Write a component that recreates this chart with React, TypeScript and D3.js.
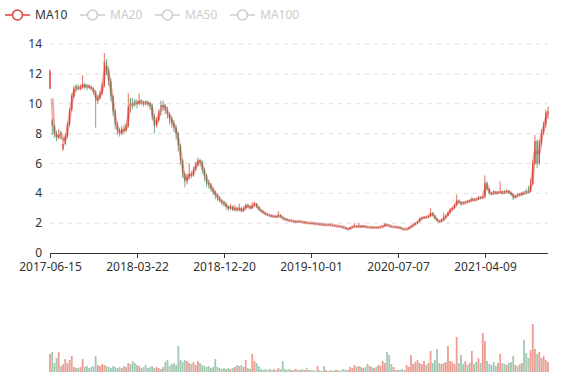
import React from "react";
import * as d3 from "d3";

// [open, close, low, high] per candle (~weekly)
const CANDLES: number[][] = [
[11.0,12.2,10.98,12.3],[8.9,8.5,7.9,9.0],[8.5,8.0,7.7,8.6],[8.0,7.7,7.5,8.2],[7.7,7.9,7.6,8.3],
[8.1,8.0,7.6,8.2],[6.95,7.3,6.85,7.7],[7.3,7.8,7.2,8.0],[7.8,8.6,7.7,8.8],[8.6,9.6,8.5,9.7],
[9.6,10.5,9.5,10.7],[10.5,11.0,10.4,11.2],[11.2,11.1,10.8,11.3],[11.1,11.0,10.9,11.3],[11.0,11.1,10.9,11.3],
[11.1,11.3,11.0,11.9],[11.3,11.1,11.0,11.4],[11.25,11.2,10.9,11.3],[11.2,11.1,11.0,11.3],[11.1,11.0,10.9,11.2],
[11.0,10.8,10.6,11.1],[10.8,10.2,8.4,10.9],[10.2,10.4,10.0,10.6],[10.4,10.7,10.3,10.9],[10.7,11.2,10.6,11.4],
[11.2,12.8,11.1,13.4],[12.8,12.2,11.9,13.0],[12.2,11.5,11.2,12.5],[11.5,10.5,10.2,11.7],[10.5,9.5,9.2,10.6],
[9.5,8.6,8.3,9.6],[8.6,8.2,7.9,8.8],[8.2,8.0,7.8,8.4],[8.0,8.3,7.9,8.5],[8.3,8.2,8.0,8.6],
[8.2,8.5,8.1,8.7],[8.5,9.8,8.4,10.7],[10.3,10.0,9.4,10.4],[10.0,9.9,9.6,10.4],[10.2,10.1,9.8,10.3],
[10.1,10.0,9.7,10.3],[10.0,10.2,9.9,10.7],[10.2,10.1,9.9,10.3],[10.1,10.0,9.8,10.2],[10.2,10.1,9.9,10.2],
[10.1,10.0,9.8,10.2],[10.0,9.9,9.6,10.1],[9.9,9.2,8.9,10.0],[9.2,8.5,8.0,9.3],[8.5,8.9,8.4,9.1],
[8.9,9.4,8.8,9.6],[9.9,9.8,9.2,10.2],[9.8,9.9,9.5,10.2],[9.9,9.6,9.3,10.0],[9.6,9.3,9.0,9.8],
[9.3,9.0,8.6,9.4],[9.0,8.7,8.4,9.2],[8.7,8.4,8.1,8.9],[8.4,8.0,7.6,8.6],[8.0,7.2,6.8,8.1],
[7.2,6.2,5.9,7.3],[6.2,5.3,5.0,6.3],[5.3,4.8,4.4,5.4],[4.8,5.1,4.6,5.3],[5.1,5.3,4.9,6.0],
[5.3,5.2,5.0,5.5],[5.2,5.6,5.1,5.8],[5.6,5.9,5.5,6.1],[5.9,6.2,5.8,6.4],[6.2,6.1,5.8,6.3],
[6.1,5.6,5.3,6.2],[5.6,5.2,4.8,5.7],[5.2,4.7,4.4,5.3],[4.7,4.6,4.3,4.9],[4.6,4.3,4.1,4.7],
[4.3,4.1,3.9,4.4],[4.1,3.9,3.6,4.2],[3.9,3.7,3.5,4.0],[3.7,3.5,3.4,3.8],[3.5,3.4,3.2,3.6],
[3.4,3.3,3.1,3.5],[3.3,3.1,2.9,3.4],[3.1,3.0,2.8,3.2],[3.0,3.1,2.9,3.3],[3.1,2.9,2.8,3.2],
[2.9,3.0,2.8,3.2],[3.0,2.9,2.75,3.1],[2.9,3.0,2.8,3.3],[3.0,2.8,2.7,3.1],[2.8,3.0,2.75,3.1],
[3.0,3.2,2.9,3.3],[3.2,3.1,3.0,3.3],[3.1,3.0,2.9,3.2],[3.0,3.2,2.95,3.4],[3.2,3.3,3.1,3.45],
[3.3,3.1,3.0,3.35],[3.1,2.9,2.85,3.15],[2.9,2.8,2.7,2.95],[2.8,2.7,2.65,2.85],[2.7,2.6,2.55,2.75],
[2.6,2.55,2.5,2.65],[2.55,2.5,2.45,2.6],[2.5,2.45,2.4,2.55],[2.45,2.46,2.4,2.5],[2.45,2.4,2.35,2.5],
[2.4,2.55,2.38,2.8],[2.55,2.4,2.35,2.6],[2.4,2.3,2.25,2.45],[2.3,2.25,2.2,2.35],[2.25,2.2,2.15,2.3],
[2.2,2.15,2.12,2.25],[2.15,2.16,2.1,2.2],[2.15,2.1,2.08,2.18],[2.1,2.11,2.06,2.15],[2.11,2.1,2.05,2.14],
[2.1,2.11,2.06,2.13],[2.1,2.05,2.02,2.12],[2.05,2.06,2.02,2.1],[2.05,2.0,1.98,2.08],[2.0,2.01,1.97,2.05],
[2.01,2.0,1.96,2.04],[2.0,1.98,1.95,2.03],[1.98,1.95,1.93,2.0],[1.95,1.96,1.92,2.0],[1.96,1.9,1.88,1.98],
[1.9,1.92,1.88,1.95],[1.92,1.88,1.86,1.95],[1.88,1.89,1.85,1.92],[1.88,1.9,1.86,1.93],[1.9,1.85,1.83,1.92],
[1.85,1.86,1.82,1.88],[1.85,1.8,1.78,1.87],[1.8,1.81,1.77,1.83],[1.8,1.78,1.75,1.82],[1.78,1.75,1.72,1.8],
[1.75,1.7,1.67,1.77],[1.7,1.62,1.58,1.72],[1.62,1.6,1.56,1.65],[1.6,1.7,1.58,1.75],[1.7,1.75,1.68,1.8],
[1.75,1.8,1.72,2.0],[1.8,1.75,1.7,1.85],[1.75,1.8,1.72,2.0],[1.8,1.75,1.7,1.85],[1.75,1.8,1.72,1.88],
[1.8,1.75,1.7,1.82],[1.75,1.72,1.68,1.78],[1.72,1.73,1.68,1.76],[1.72,1.7,1.66,1.75],[1.7,1.72,1.67,1.76],
[1.72,1.7,1.67,1.74],[1.7,1.72,1.68,1.75],[1.72,1.75,1.7,1.78],[1.75,1.8,1.73,1.85],[1.8,1.9,1.78,2.0],
[1.9,1.85,1.8,1.95],[1.85,1.8,1.76,1.88],[1.8,1.75,1.72,1.83],[1.75,1.76,1.71,1.78],[1.75,1.72,1.69,1.77],
[1.72,1.73,1.68,1.75],[1.72,1.65,1.62,1.74],[1.65,1.6,1.56,1.67],[1.6,1.58,1.55,1.63],[1.58,1.62,1.56,1.66],
[1.62,1.7,1.6,1.73],[1.7,1.8,1.68,1.84],[1.8,1.9,1.78,1.95],[1.9,2.0,1.87,2.05],[2.0,2.1,1.97,2.15],
[2.1,2.3,2.08,2.38],[2.3,2.35,2.25,2.42],[2.35,2.4,2.3,2.45],[2.42,2.4,2.33,2.46],[2.4,2.45,2.36,2.55],
[2.45,2.7,2.42,3.0],[2.7,2.5,2.45,2.75],[2.5,2.3,2.25,2.55],[2.3,2.15,2.1,2.35],[2.15,2.1,2.05,2.2],
[2.1,2.2,2.07,2.3],[2.2,2.35,2.15,2.7],[2.35,2.5,2.3,2.55],[2.5,2.7,2.45,2.78],[2.7,2.9,2.65,3.0],
[2.9,3.0,2.85,3.1],[3.0,3.2,2.95,3.3],[3.2,3.5,3.15,3.9],[3.5,3.4,3.3,3.6],[3.4,3.3,3.15,3.45],
[3.4,3.35,3.25,3.45],[3.35,3.4,3.3,3.5],[3.5,3.45,3.35,3.55],[3.45,3.5,3.4,3.6],[3.5,3.6,3.45,3.75],
[3.6,3.55,3.45,3.65],[3.65,3.6,3.5,3.7],[3.6,3.7,3.55,3.8],[3.72,3.7,3.6,3.78],[3.7,3.75,3.65,3.85],
[3.75,4.7,3.7,5.2],[4.7,4.3,4.2,4.8],[4.3,4.0,3.9,4.35],[4.0,3.95,3.85,4.1],[4.15,4.1,3.9,4.2],
[4.1,4.0,3.9,4.15],[4.0,4.05,3.95,4.15],[4.05,4.1,4.0,4.8],[4.1,4.0,3.9,4.2],[4.15,4.1,3.95,4.2],
[4.1,4.15,4.0,4.25],[4.15,4.05,3.95,4.2],[4.05,3.95,3.85,4.1],[3.95,3.7,3.55,4.0],[3.7,3.8,3.65,3.9],
[3.95,3.9,3.75,4.0],[3.92,3.9,3.8,4.0],[3.9,4.0,3.85,4.1],[4.02,4.0,3.9,4.15],[4.15,4.1,3.95,4.3],
[4.12,4.1,4.0,4.5],[4.1,4.6,4.05,5.0],[4.6,6.0,4.55,6.2],[6.0,7.5,5.9,7.9],[7.5,6.0,5.7,7.6],
[6.0,7.4,5.9,7.6],[7.4,8.1,7.2,8.3],[8.1,8.6,7.9,8.8],[8.6,9.4,8.4,9.6],[9.4,9.5,9.0,9.8],
];

const VOLUMES: number[] = [
18,20,9,14,20,6,8,13,9,12, 16,5,4,4,5,13,5,6,4,5, 6,16,7,6,8,7,6,5,4,6,
5,4,5,4,6,5,9,8,11,9, 7,6,4,5,7,4,5,6,4,5, 4,3,5,10,12,6,8,9,7,26,
12,10,12,11,9,8,10,7,11,9, 7,6,5,6,4,5,13,5,4,3, 4,3,4,3,4,5,7,6,7,5,
12,4,3,18,11,9,6,3,2,3, 2,3,2,3,2,4,3,11,3,2, 3,2,2,3,2,2,3,2,4,2,
2,2,1,6,2,1,6,2,1,2, 1,2,2,1,2,3,2,2,5,4, 7,5,6,5,4,5,8,6,5,4,
5,7,6,11,9,20,17,8,5,2, 2,2,3,2,7,5,17,8,10,12, 9,8,11,7,9,21,9,12,23,9,
8,9,10,26,11,10,8,35,9,17, 8,11,7,9,21,8,10,14,9,39, 31,11,8,7,10,6,9,18,9,8,
7,9,10,16,7,6,8,9,32,19, 14,22,48,23,18,20,14,16,12,10,
];

const TICK_LABELS = ["2017-06-15", "2018-03-22", "2018-12-20", "2019-10-01", "2020-07-07", "2021-04-09"];
const TICK_STEP = 40;
const Y_TICKS = [0, 2, 4, 6, 8, 10, 12, 14];
const LEGEND = ["MA10", "MA20", "MA50", "MA100"];
const MA_WINDOW = 2;

const UP = "#de4d3c";
const DOWN = "#559c72";
const MA_COLOR = "#d9453b";
const FONT = "'Noto Sans', 'Open Sans', sans-serif";

export default function App() {
  const W = 577, H = 380;
  const left = 50, right = 548, top = 44, bottom = 253;
  const vTop = 322, vBottom = 372;
  const n = CANDLES.length;
  const x = d3.scaleLinear().domain([0, n - 1]).range([left, right]);
  const y = d3.scaleLinear().domain([0, 14]).range([bottom, top]);
  const vy = d3.scaleLinear().domain([0, 50]).range([vBottom, vTop]);

  const ma: [number, number][] = [];
  for (let i = MA_WINDOW - 1; i < n; i++) {
    let s = 0;
    for (let k = 0; k < MA_WINDOW; k++) s += CANDLES[i - k][1];
    ma.push([i, s / MA_WINDOW]);
  }
  const line = d3.line<[number, number]>().x(d => x(d[0])).y(d => y(d[1])).curve(d3.curveMonotoneX);
  const bw = 1.3;

  return (
    <svg width={W} height={H} style={{ position: "absolute", left: 0, top: 0, background: "#fff" }}>
      {LEGEND.map((name, i) => {
        const lx = 5 + i * 75;
        const active = i === 0;
        const c = active ? MA_COLOR : "#ccc";
        return (
          <g key={name}>
            <line x1={lx} x2={lx + 25} y1={15} y2={15} stroke={c} strokeWidth={1.5} />
            <circle cx={lx + 12.5} cy={15} r={5} fill="#fff" stroke={c} strokeWidth={1.5} />
            <text x={lx + 30} y={15} dy="0.35em" fontSize={12} fontFamily={FONT} fill={active ? "#333" : "#ccc"}>{name}</text>
          </g>
        );
      })}
      {Y_TICKS.map(t => (
        <g key={t}>
          {t > 0 && <line x1={left} x2={right} y1={y(t)} y2={y(t)} stroke="#ddd" strokeDasharray="4,5" />}
          <text x={42} y={y(t)} dy="0.35em" textAnchor="end" fontSize={12} fontFamily={FONT} fill="#333">{t}</text>
        </g>
      ))}
      {CANDLES.map((d, i) => {
        const [o, c, l, h] = d;
        const col = c >= o ? UP : DOWN;
        const yt = y(Math.max(o, c)), yb = y(Math.min(o, c));
        return (
          <g key={i}>
            <line x1={x(i)} x2={x(i)} y1={y(h)} y2={y(l)} stroke={col} strokeWidth={1} opacity={0.8} />
            <rect x={x(i) - bw / 2} y={yt} width={bw} height={Math.max(0.8, yb - yt)} fill={col} />
          </g>
        );
      })}
      <path d={line(ma) || ""} fill="none" stroke={MA_COLOR} strokeWidth={3} strokeOpacity={0.45} strokeLinejoin="round" />
      <line x1={left} x2={right} y1={bottom + 0.5} y2={bottom + 0.5} stroke="#333" />
      {TICK_LABELS.map((lab, k) => {
        const tx = Math.round(x(k * TICK_STEP)) + 0.5;
        return (
          <g key={lab}>
            <line x1={tx} x2={tx} y1={bottom} y2={bottom + 5} stroke="#333" />
            <text x={tx} y={267} dy="0.35em" textAnchor="middle" fontSize={12} fontFamily={FONT} fill="#333">{lab}</text>
          </g>
        );
      })}
      {VOLUMES.map((v, i) => {
        const [o, c] = CANDLES[i];
        const col = c >= o ? UP : DOWN;
        const yv = vy(v);
        return <rect key={i} x={x(i) - 0.9} y={yv} width={1.8} height={Math.max(1, vBottom - yv)} fill={col} opacity={0.55} />;
      })}
    </svg>
  );
}
